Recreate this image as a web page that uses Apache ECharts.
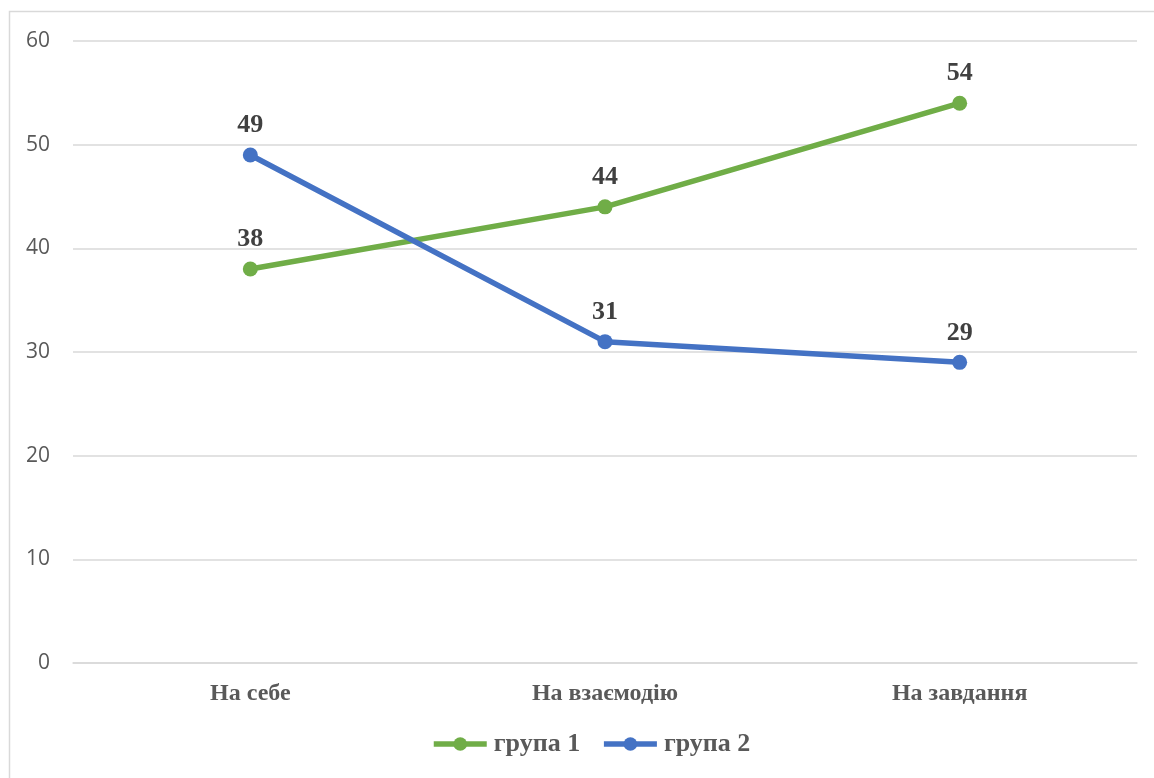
<!DOCTYPE html>
<html>
<head>
<meta charset="utf-8">
<script src="https://cdn.jsdelivr.net/npm/echarts@6/dist/echarts.min.js"></script>
<style>
  html, body { margin: 0; padding: 0; background: #fff; }
  #chart { width: 1154px; height: 778px; }
</style>
</head>
<body>
<div id="chart"></div>
<script>
const categories = ['На себе', 'На взаємодію', 'На завдання'];
const group1 = [38, 44, 54];
const group2 = [49, 31, 29];
const seriesNames = ['група 1', 'група 2'];
const yTicks = { min: 0, max: 60, interval: 10 };

const serif = '"Liberation Serif", "DejaVu Serif", serif';
const sans = '"Open Sans", "Liberation Sans", sans-serif';

function lineSeries(name, data, color) {
  return {
    name: name,
    type: 'line',
    data: data,
    symbol: 'circle',
    symbolSize: 15,
    lineStyle: { width: 5.5, color: color },
    itemStyle: { color: color },
    label: {
      show: true,
      position: 'top',
      distance: 9,
      fontFamily: serif,
      fontWeight: 'bold',
      fontSize: 26,
      color: '#404040'
    },
    emphasis: { disabled: true }
  };
}

const chart = echarts.init(document.getElementById('chart'), null, { renderer: 'canvas' });
chart.setOption({
  animation: false,
  backgroundColor: '#fff',
  graphic: [{
    type: 'rect',
    shape: { x: 9.5, y: 11.5, width: 1200, height: 800 },
    style: { fill: 'none', stroke: '#d9d9d9', lineWidth: 1.5 },
    silent: true
  }],
  grid: { left: 73, right: 17, top: 41, bottom: 115 },
  legend: {
    bottom: 16,
    left: 426,
    itemWidth: 53,
    itemHeight: 17,
    itemGap: 21,
    lineStyle: { width: 5.5 },
    textStyle: { fontFamily: serif, fontWeight: 'bold', fontSize: 26, color: '#595959', padding: [0, 0, 0, 2] },
    data: seriesNames
  },
  xAxis: {
    type: 'category',
    data: categories,
    boundaryGap: true,
    axisLine: { show: true, lineStyle: { color: '#d9d9d9', width: 1.5 } },
    axisTick: { show: false },
    axisLabel: {
      margin: 19,
      fontFamily: serif,
      fontWeight: 'bold',
      fontSize: 24,
      color: '#595959'
    }
  },
  yAxis: {
    type: 'value',
    min: yTicks.min,
    max: yTicks.max,
    interval: yTicks.interval,
    axisLine: { show: false },
    axisTick: { show: false },
    splitLine: { lineStyle: { color: '#d9d9d9', width: 1.5 } },
    axisLabel: {
      margin: 23,
      fontFamily: sans,
      fontSize: 21,
      color: '#595959'
    }
  },
  series: [
    lineSeries(seriesNames[0], group1, '#70AD47'),
    lineSeries(seriesNames[1], group2, '#4472C4')
  ]
});
</script>
</body>
</html>
